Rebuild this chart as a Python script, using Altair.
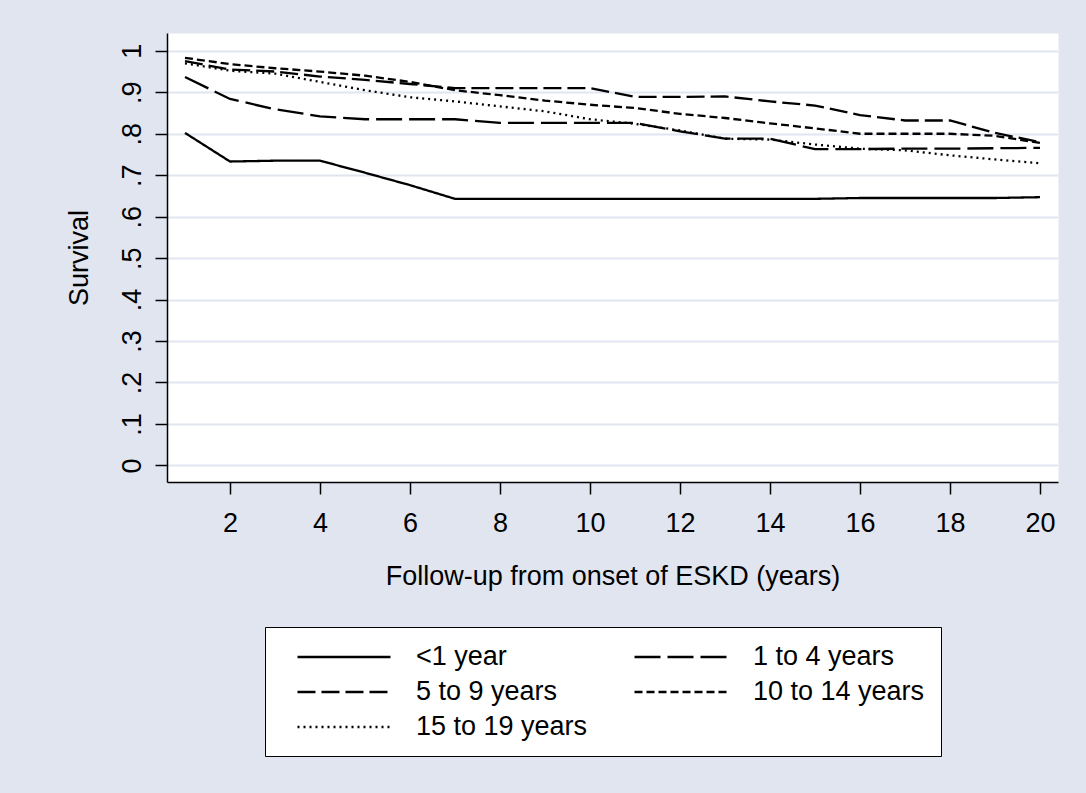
import altair as alt
import pandas as pd

# Kaplan-Meier style survival by age group at onset of ESKD
years = list(range(1, 21))
groups = ["<1 year", "1 to 4 years", "5 to 9 years", "10 to 14 years", "15 to 19 years"]

surv_lt1 = [0.802, 0.733, 0.735, 0.735, 0.706, 0.676, 0.643, 0.643, 0.643, 0.643,
            0.643, 0.643, 0.643, 0.643, 0.643, 0.645, 0.645, 0.645, 0.645, 0.647]
surv_1_4 = [0.937, 0.884, 0.859, 0.842, 0.835, 0.835, 0.835, 0.826, 0.826, 0.826,
            0.826, 0.806, 0.788, 0.788, 0.763, 0.763, 0.764, 0.764, 0.765, 0.766]
surv_5_9 = [0.975, 0.955, 0.950, 0.938, 0.930, 0.920, 0.910, 0.910, 0.910, 0.910,
            0.889, 0.889, 0.890, 0.878, 0.868, 0.845, 0.832, 0.832, 0.802, 0.780]
surv_10_14 = [0.983, 0.968, 0.958, 0.950, 0.940, 0.925, 0.905, 0.893, 0.880, 0.870,
              0.862, 0.848, 0.838, 0.825, 0.813, 0.800, 0.800, 0.800, 0.795, 0.778]
surv_15_19 = [0.970, 0.952, 0.945, 0.925, 0.905, 0.888, 0.878, 0.866, 0.854, 0.835,
              0.824, 0.808, 0.788, 0.786, 0.774, 0.764, 0.760, 0.748, 0.738, 0.729]

series = [surv_lt1, surv_1_4, surv_5_9, surv_10_14, surv_15_19]
dash_styles = [[1, 0], [26, 7], [18, 6], [8, 4], [2, 4]]

y_ticks = [i / 10 for i in range(11)]
x_ticks = list(range(2, 21, 2))

rows = []
for name, vals in zip(groups, series):
    for t, v in zip(years, vals):
        rows.append({"group": name, "year": t, "survival": v})
df = pd.DataFrame(rows)

FONT = "Liberation Sans"
FS = 27
BG = "#E1E5F0"
LW = 2.3

legend = alt.Legend(
    title=None,
    orient="none",
    direction="horizontal",
    legendX=98,
    legendY=594,
    columns=2,
    padding=16,
    rowPadding=8,
    columnPadding=30,
    strokeColor="black",
    fillColor="white",
    symbolType="M-3.72,0H3.72",
    symbolSize=625,
    symbolStrokeWidth=LW,
    symbolStrokeColor="black",
    symbolOffset=49,
    labelOffset=58,
    labelLimit=400,
    labelFont=FONT,
    labelFontSize=FS,
    labelColor="black",
)

x_axis = alt.Axis(
    values=x_ticks,
    title="Follow-up from onset of ESKD (years)",
    grid=False,
    tickSize=12,
    tickWidth=1.5,
    tickColor="black",
    domainColor="black",
    domainWidth=1.5,
    labelFont=FONT,
    labelFontSize=FS,
    labelColor="black",
    labelPadding=16,
    labelFlush=False,
    labelOverlap=False,
    titleFont=FONT,
    titleFontSize=FS,
    titleFontWeight="normal",
    titleColor="black",
    titlePadding=27,
)

y_axis = alt.Axis(
    values=y_ticks,
    title="Survival",
    grid=True,
    gridColor=BG,
    gridWidth=2,
    tickSize=12,
    tickWidth=1.5,
    tickColor="black",
    domainColor="black",
    domainWidth=1.5,
    labelExpr="datum.value == 0 ? '0' : datum.value == 1 ? '1' : replace(format(datum.value, '.1f'), '0.', '.')",
    labelAngle=270,
    labelAlign="center",
    labelBaseline="alphabetic",
    labelFont=FONT,
    labelFontSize=FS,
    labelColor="black",
    labelPadding=15,
    labelFlush=False,
    labelOverlap=False,
    titleFont=FONT,
    titleFontSize=FS,
    titleFontWeight="normal",
    titleColor="black",
    titlePadding=25,
)

chart = (
    alt.Chart(df)
    .mark_line(color="black", strokeWidth=LW)
    .encode(
        x=alt.X("year:Q", scale=alt.Scale(domain=[0.6, 20.4], nice=False, zero=False), axis=x_axis),
        y=alt.Y("survival:Q", scale=alt.Scale(domain=[-0.04, 1.043], nice=False, zero=False), axis=y_axis),
        strokeDash=alt.StrokeDash(
            "group:N",
            scale=alt.Scale(domain=groups, range=dash_styles),
            legend=legend,
        ),
    )
    .properties(
        width=891,
        height=449,
        autosize=alt.AutoSizeParams(type="none"),
        padding={"left": 167, "top": 33, "right": 28, "bottom": 311},
        background=BG,
    )
    .configure_view(fill="white", stroke="transparent")
)

chart.save("out.html", embed_options={"renderer": "svg", "actions": False})
